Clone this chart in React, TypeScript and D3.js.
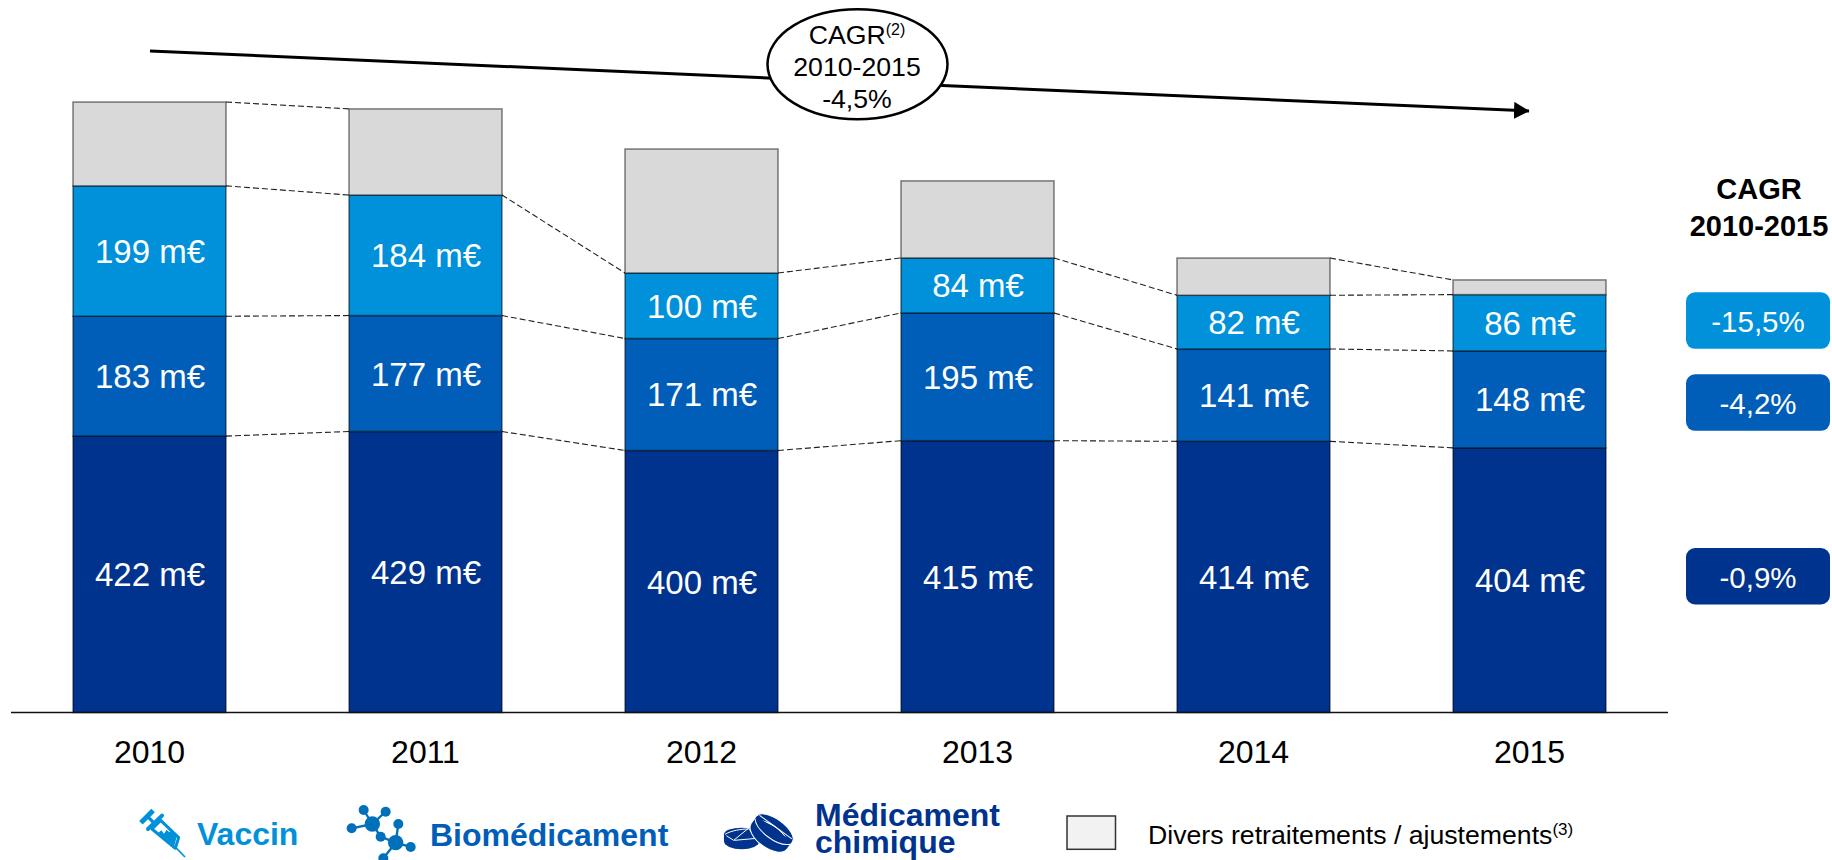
import React from "react";
import * as d3 from "d3";

const years = ["2010", "2011", "2012", "2013", "2014", "2015"];
const chimique = [422, 429, 400, 415, 414, 404];
const biomedicament = [183, 177, 171, 195, 141, 148];
const vaccin = [199, 184, 100, 84, 82, 86];
const divers = [128, 131.5, 189.3, 117.6, 56.8, 22.4];
// The reference only links the tops of the grey blocks for these year gaps.
const diversLinkGaps = [0, 4];

const colorChimique = "#00338D";
const colorBio = "#005EB8";
const colorVaccin = "#0091DA";
const colorDivers = "#D9D9D9";

const seriesKeys = ["chimique", "biomedicament", "vaccin", "divers"];
const seriesValues: Record<string, number[]> = { chimique, biomedicament, vaccin, divers };
const seriesColors: Record<string, string> = {
  chimique: colorChimique,
  biomedicament: colorBio,
  vaccin: colorVaccin,
  divers: colorDivers,
};

const cagrLabels = ["-15,5%", "-4,2%", "-0,9%"];
const cagrColors = [colorVaccin, colorBio, colorChimique];
const cagrTops = [292.3, 374.3, 548];

const FONT = "'Liberation Sans', Arial, sans-serif";
const BASE = 712.5;

const x = d3.scaleBand<string>().domain(years).range([73, 1606]).paddingInner(1 - 153 / 276).paddingOuter(0);
const y = d3.scaleLinear().domain([0, 800]).range([BASE, BASE - 800 * 0.655]);

const rows = years.map((year, i) => {
  const r: any = { year };
  seriesKeys.forEach((k) => (r[k] = seriesValues[k][i]));
  return r;
});
const stacked = d3.stack<any>().keys(seriesKeys)(rows);

function Syringe() {
  return (
    <g transform="translate(130,795) scale(0.3333)" fill={colorVaccin} stroke={colorVaccin}>
      <path d="M38 78L64 52" strokeWidth={15} strokeLinecap="square" fill="none" />
      <path d="M50 62L74 86" strokeWidth={10} fill="none" />
      <path d="M54 102L96 62" strokeWidth={12} strokeLinecap="round" fill="none" />
      <path d="M66 102L92 76L146 128L136 160Z" strokeWidth={9} fill="#fff" strokeLinejoin="round" />
      <path d="M80 118L94 106L102 116L110 104L118 112L124 104L140 126L132 156Z" stroke="none" />
      <path d="M134 154L165 186" strokeWidth={5} fill="none" />
    </g>
  );
}

function Molecule() {
  const nodes: [number, number, number][] = [
    [71, 45, 15], [137, 50, 15], [35, 100, 15], [97, 87, 23], [175, 87, 15],
    [122, 125, 15], [167, 143, 23], [212, 156, 15], [130, 190, 15],
  ];
  const links: [number, number][] = [[0, 3], [1, 3], [2, 3], [3, 5], [5, 6], [4, 6], [6, 7], [6, 8]];
  return (
    <g transform="translate(340,795) scale(0.3333)" fill="#0070BB" stroke="#0070BB">
      {links.map(([a, b], i) => (
        <line key={i} x1={nodes[a][0]} y1={nodes[a][1]} x2={nodes[b][0]} y2={nodes[b][1]} strokeWidth={7} />
      ))}
      {nodes.map(([cx, cy, r], i) => (
        <circle key={i} cx={cx} cy={cy} r={r} stroke="none" />
      ))}
    </g>
  );
}

function Pills() {
  return (
    <g transform="translate(715,805) scale(0.3333)" fill={colorChimique}>
      <ellipse cx="80" cy="88" rx="53" ry="20" />
      <ellipse cx="80" cy="108" rx="53" ry="25" />
      <rect x="27" y="88" width="106" height="20" />
      <path d="M30 88C50 76 80 72 100 72" fill="none" stroke="#fff" strokeWidth={3} />
      <path d="M34 92L56 106L100 70L126 100L58 106" fill="none" stroke="#fff" strokeWidth={3} />
      <g transform="rotate(36 168 86)">
        <ellipse cx="168" cy="68" rx="66" ry="29" stroke="#fff" strokeWidth={3} />
        <ellipse cx="168" cy="96" rx="66" ry="34" stroke="#fff" strokeWidth={3} />
        <rect x="103" y="68" width="130" height="28" />
        <path d="M103 78C125 104 205 108 233 78" fill="none" stroke="#fff" strokeWidth={3} />
        <path d="M108 62L228 62" fill="none" stroke="#fff" strokeWidth={3} />
      </g>
    </g>
  );
}

export default function App() {
  return (
    <svg
      width={1832}
      height={860}
      viewBox="0 0 1832 860"
      style={{ position: "absolute", left: 0, top: 0, display: "block", background: "#fff" }}
      fontFamily={FONT}
    >
      <defs>
        <marker id="arrow" markerUnits="userSpaceOnUse" markerWidth="18" markerHeight="18" refX="15" refY="8.5" orient="auto">
          <path d="M0 0L15.5 8.5L0 17Z" fill="#000" />
        </marker>
      </defs>

      {/* connectors */}
      {stacked.map((s) =>
        s.slice(0, -1).map((d, i) =>
          s.key === "divers" && !diversLinkGaps.includes(i) ? null : (
            <line
              key={s.key + i}
              x1={(x(years[i]) as number) + x.bandwidth()}
              y1={y(d[1])}
              x2={x(years[i + 1]) as number}
              y2={y(s[i + 1][1])}
              stroke="#222"
              strokeWidth={1.1}
              strokeDasharray="6 3"
            />
          )
        )
      )}

      {/* bars */}
      {stacked.map((s) =>
        s.map((d, i) => (
          <rect
            key={s.key + i}
            x={x(years[i])}
            y={y(d[1])}
            width={x.bandwidth()}
            height={y(d[0]) - y(d[1])}
            fill={seriesColors[s.key]}
            stroke="#000"
            strokeOpacity={0.5}
            strokeWidth={1.5}
          />
        ))
      )}

      {/* value labels */}
      {stacked
        .filter((s) => s.key !== "divers")
        .map((s) =>
          s.map((d, i) => (
            <text
              key={s.key + i}
              x={(x(years[i]) as number) + x.bandwidth() / 2 + 0.5}
              y={(y(d[0]) + y(d[1])) / 2 + 12}
              fontSize={33}
              fill="#fff"
              textAnchor="middle"
            >
              {`${seriesValues[s.key][i]} m€`}
            </text>
          ))
        )}

      {/* baseline */}
      <line x1={11} x2={1668} y1={BASE} y2={BASE} stroke="#111" strokeWidth={1.5} />

      {/* year labels */}
      {years.map((yr) => (
        <text key={yr} x={(x(yr) as number) + x.bandwidth() / 2} y={763} fontSize={32} fill="#000" textAnchor="middle">
          {yr}
        </text>
      ))}

      {/* trend arrow */}
      <line x1={150} y1={51} x2={1529} y2={111} stroke="#000" strokeWidth={3} markerEnd="url(#arrow)" />
      <ellipse cx={857.5} cy={64.3} rx={90} ry={55} fill="#fff" stroke="#000" strokeWidth={2.5} />
      <text x={857} y={44} fontSize={26.67} textAnchor="middle" fill="#000">
        CAGR<tspan fontSize={16} dy={-9}>(2)</tspan>
      </text>
      <text x={857} y={75.5} fontSize={26.67} textAnchor="middle" fill="#000">2010-2015</text>
      <text x={857} y={107.5} fontSize={26.67} textAnchor="middle" fill="#000">-4,5%</text>

      {/* CAGR column */}
      <text x={1759} y={199} fontSize={29} fontWeight="bold" textAnchor="middle" fill="#000">CAGR</text>
      <text x={1759} y={236} fontSize={29} fontWeight="bold" textAnchor="middle" fill="#000">2010-2015</text>
      {cagrLabels.map((label, i) => (
        <g key={label}>
          <rect x={1686} y={cagrTops[i]} width={144} height={56.5} rx={9} fill={cagrColors[i]} />
          <text x={1758} y={cagrTops[i] + 39.5} fontSize={29.5} fill="#fff" textAnchor="middle">{label}</text>
        </g>
      ))}

      {/* legend */}
      <Syringe />
      <text x={197} y={845} fontSize={32} fontWeight="bold" fill={colorVaccin}>Vaccin</text>
      <Molecule />
      <text x={430} y={846} fontSize={32} fontWeight="bold" fill={colorBio}>Biomédicament</text>
      <Pills />
      <text x={815} y={826} fontSize={32} fontWeight="bold" fill={colorChimique}>Médicament</text>
      <text x={815} y={852.7} fontSize={32} fontWeight="bold" fill={colorChimique}>chimique</text>
      <rect x={1067} y={816} width={48.5} height={33.3} fill="#F2F2F2" stroke="#333" strokeWidth={1.5} />
      <text x={1148} y={844} fontSize={26.67} fill="#000">
        Divers retraitements / ajustements<tspan fontSize={17} dy={-9}>(3)</tspan>
      </text>
    </svg>
  );
}
